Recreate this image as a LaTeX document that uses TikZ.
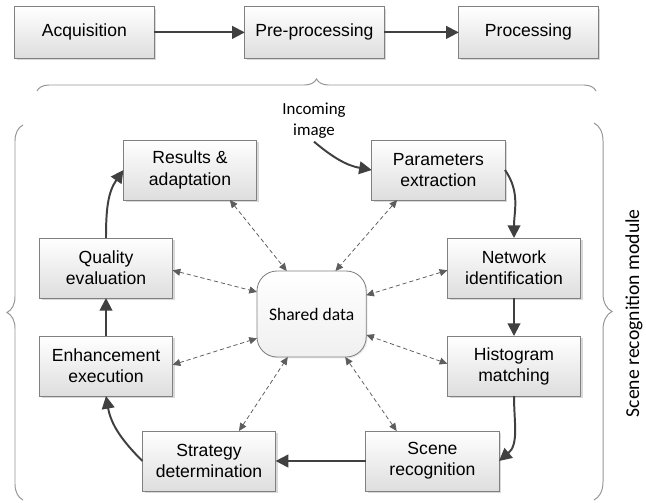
\documentclass[tikz,border=0pt]{standalone}
\usepackage{fontspec}
\setmainfont{Liberation Sans}
\newfontfamily\calibri{Carlito}
\usepackage{tikz}
\usetikzlibrary{arrows.meta, positioning, shadows, decorations.pathreplacing}
\definecolor{edge}{RGB}{128,128,128}
\definecolor{ink}{RGB}{64,64,64}
\definecolor{bracec}{RGB}{150,150,150}

\begin{document}
\begin{tikzpicture}[font=\fontsize{12.5}{15}\selectfont,
      blk/.style={rectangle, draw=edge, line width=0.6pt, top color=white, bottom color=black!13,
                minimum width=3.33cm, minimum height=1.5cm, align=center, inner sep=2pt, outer sep=0pt,
                drop shadow={shadow xshift=1.5pt, shadow yshift=-1.5pt, fill=black!25, opacity=.6}},
      stage/.style={blk, minimum width=3.48cm, minimum height=1.28cm},
      hub/.style={rectangle, rounded corners=0.5cm, draw=edge, line width=0.6pt, top color=white,
                bottom color=black!6, minimum width=2.73cm, minimum height=2.15cm, outer sep=0pt,
                font=\calibri\fontsize{12.5}{14}\selectfont,
                drop shadow={shadow xshift=1pt, shadow yshift=-1pt, fill=black!15, opacity=.5}},
      arr/.style={-{Triangle[length=9pt, width=9pt]}, line width=1.4pt, draw=ink},
      dsh/.style={{Triangle[length=5.5pt, width=5pt]}-{Triangle[length=5.5pt, width=5pt]},
                draw=ink!85, line width=0.55pt, dash pattern=on 3pt off 2pt},
      br/.style={decorate, decoration={brace, amplitude=#1}, draw=bracec, line width=0.7pt}
    ]
      \useasboundingbox (0,0) rectangle (16.15,12.55);

      \node[stage] (acq) at (2.11,11.74) {Acquisition};
      \node[stage, right=2.27cm of acq] (pre) {Pre-processing};
      \node[stage, right=1.87cm of pre] (pro) {Processing};
      \draw[arr] (acq) -- (pre);
      \draw[arr] (pre) -- (pro);

      \draw[br=0.3cm] (0.925,10.275) -- (14.9,10.275);
      \draw[br=0.4cm] (0.575,0.05) -- (0.575,9.425);
      \draw[br=0.45cm] (14.85,9.475) -- (14.85,0.05);
      \node[rotate=90, font=\calibri\fontsize{14}{16}\selectfont] (lbl) at (15.85,4.72) {Scene recognition module};

      \node[hub] (sd) at (7.79,4.70) {Shared data};
      \node[blk] (res) at (4.75,8.30) {Results \&\\adaptation};
      \node[blk] (par) at (10.96,8.30) {Parameters\\extraction};
      \node[blk] (qual) at (2.65,5.85) {Quality\\evaluation};
      \node[blk] (net) at (12.85,5.85) {Network\\identification};
      \node[blk] (enh) at (2.65,3.40) {Enhancement\\execution};
      \node[blk] (his) at (12.85,3.40) {Histogram\\matching};
      \node[blk] (str) at (5.225,1.025) {Strategy\\determination};
      \node[blk] (sce) at (10.81,1.025) {Scene\\recognition};
      \node[font=\calibri\fontsize{12}{15}\selectfont, align=center, inner sep=2pt] (inc) at (7.85,9.53) {Incoming\\image};

      \draw[arr] (inc.south) to[out=-40, in=170] (par.west);
      \draw[arr] (par.east) to[out=-55, in=90] (net.north);
      \draw[arr] (net) -- (his);
      \draw[arr] (his.south) to[out=-90, in=40] (sce.east);
      \draw[arr] (sce) -- (str);
      \draw[arr] (str.west) to[out=135, in=-80] (enh.south);
      \draw[arr] (enh) -- (qual);
      \draw[arr] (qual.north) to[out=90, in=235] (res.west);

      \draw[dsh] (res.-37) -- (sd.120);
      \draw[dsh] (par.216) -- (sd.61);
      \draw[dsh] (qual.-2) -- (sd.158);
      \draw[dsh] (net.182) -- (sd.19);
      \draw[dsh] (enh.1) -- (sd.204);
      \draw[dsh] (his.178) -- (sd.-21);
      \draw[dsh] (str.45) -- (sd.241);
      \draw[dsh] (sce.140) -- (sd.-52);
    \end{tikzpicture}
\end{document}
